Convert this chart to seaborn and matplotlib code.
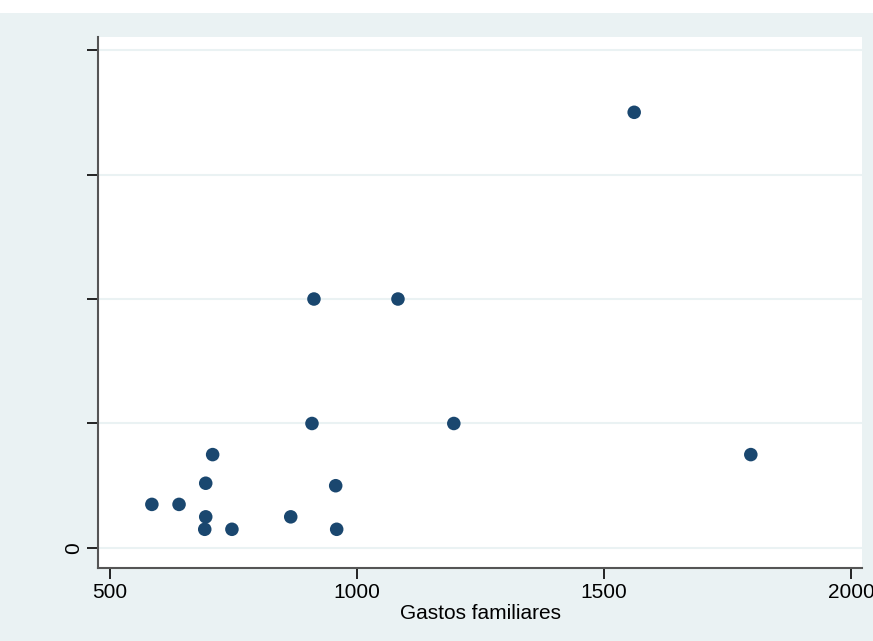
import numpy as np
import pandas as pd
import matplotlib.pyplot as plt
import seaborn as sns

# Data
gastos = [585, 640, 692, 694, 694, 708, 747, 866, 909, 913, 957, 959, 1083, 1196, 1561, 1797]
ingresos = [350, 350, 150, 250, 520, 750, 150, 250, 1000, 2000, 500, 150, 2000, 1000, 3500, 750]
x_ticks = [500, 1000, 1500, 2000]
x_labels = ["500", "1000", "1500", "2000"]
y_ticks = [0, 1000, 2000, 3000, 4000]
y_labels = ["0", "", "", "", ""]

df = pd.DataFrame({"gastos": gastos, "ingresos": ingresos})

sns.set_style("white")
plt.rcParams['font.family'] = ['Liberation Sans', 'DejaVu Sans']

bg = "#EAF2F3"
fig = plt.figure(figsize=(8.73, 6.41), dpi=100, facecolor=bg)
W, H = 873, 641
ax = fig.add_axes([98 / W, 1 - 568 / H, (862 - 98) / W, (568 - 37) / H])
ax.set_facecolor("white")

# white strip at the top of the scan
fig.patches.append(plt.Rectangle((0, 1 - 13 / H), 1, 13 / H, transform=fig.transFigure,
                                 facecolor="white", edgecolor="none", zorder=-1))

for t in y_ticks:
    ax.axhline(t, color=bg, lw=1.5, zorder=0)

sns.scatterplot(data=df, x="gastos", y="ingresos", ax=ax, color="#1A476F",
                s=95, edgecolor="none", zorder=3)

ax.set_xlim(476, 2022)
ax.set_ylim(-161, 4105)
ax.set_xticks(x_ticks)
ax.set_xticklabels(x_labels, fontsize=15, color="black")
ax.set_yticks(y_ticks)
ax.set_yticklabels(y_labels, fontsize=15, rotation=90, va="center", color="black")
ax.tick_params(axis="both", direction="out", length=8, width=1.2, color="black",
               left=True, bottom=True, pad=3)
ax.set_xlabel("Gastos familiares", fontsize=15, labelpad=1, color="black")
ax.set_ylabel("")

for side in ["top", "right"]:
    ax.spines[side].set_visible(False)
for side in ["left", "bottom"]:
    ax.spines[side].set_color("#555555")
    ax.spines[side].set_linewidth(1.5)

fig.savefig("out.png", dpi=100, facecolor=bg)
